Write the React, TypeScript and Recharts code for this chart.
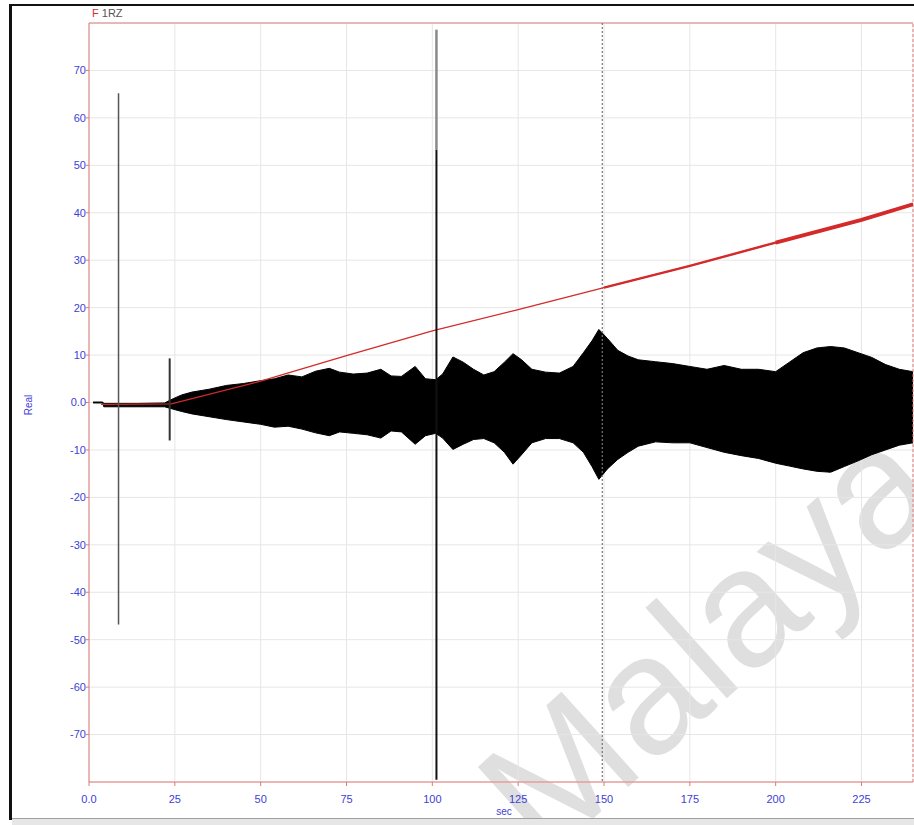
import React from 'react';
import { ComposedChart, XAxis, YAxis, CartesianGrid, Area, Line, ReferenceLine } from 'recharts';

const xTicks = [0, 25, 50, 75, 100, 125, 150, 175, 200, 225];
const yTicks = [70, 60, 50, 40, 30, 20, 10, 0, -10, -20, -30, -40, -50, -60, -70];

// envelope of the oscillating response (sec, upper, lower)
const envT = [1.2, 4.0, 4.3, 14, 22, 24.5, 27, 30, 35, 40, 45, 50, 54, 58, 62, 66, 70, 73, 77, 81, 85, 88, 91, 95, 98, 101, 103, 106, 109, 112, 115, 118, 121, 123.5, 126, 129, 133, 137, 141, 144, 146.5, 148.5, 151, 154, 157, 160, 165, 170, 175, 180, 185, 190, 195, 200, 204, 208, 212, 216, 220, 224, 228, 232, 236, 240];
const envHigh = [0.1, 0.1, -0.2, -0.2, -0.1, 0.8, 1.6, 2.2, 2.8, 3.6, 4.0, 4.6, 5.0, 5.8, 5.4, 6.6, 7.2, 6.4, 6.0, 6.2, 7.0, 5.6, 5.5, 7.6, 5.0, 4.8, 6.0, 9.6, 8.5, 7.0, 5.8, 6.5, 8.5, 10.3, 9.0, 7.0, 6.4, 6.2, 7.6, 10.5, 13.0, 15.4, 13.5, 11.0, 9.8, 9.0, 8.6, 8.2, 7.6, 7.0, 7.8, 7.0, 7.0, 6.5, 8.5, 10.5, 11.5, 11.8, 11.5, 10.5, 9.5, 8.0, 7.0, 6.5];
const envLow = [-0.1, -0.1, -0.9, -0.9, -0.9, -1.4, -1.9, -2.4, -3.0, -3.6, -4.1, -4.6, -5.2, -5.0, -5.6, -6.4, -7.0, -6.2, -6.5, -6.8, -7.5, -6.0, -6.2, -8.8, -7.0, -6.5, -7.5, -9.9, -8.8, -7.8, -7.6, -8.5, -10.5, -13.0, -11.0, -8.5, -7.6, -7.6, -8.5, -10.5, -13.5, -16.2, -14.0, -12.0, -10.5, -9.2, -8.3, -8.5, -8.5, -9.5, -10.5, -11.2, -11.8, -12.8, -13.4, -14.0, -14.5, -14.7, -13.5, -12.3, -11.0, -10.0, -9.0, -8.5];

// red reference trace
const refT = [3.5, 24, 50, 75, 100, 125, 150, 175, 200, 225, 240];
const refV = [-0.4, -0.3, 4.5, 9.9, 15.1, 19.6, 24.2, 28.8, 33.7, 38.5, 41.8];

// impulse spikes (sec, top, bottom)
const spikeT = [8.6, 23.5, 101.2];
const spikeTop = [65.2, 9.3, 53.3];
const spikeBottom = [-46.8, -8.0, -79.5];
const spikeColor = ['#555', '#333', '#111'];
const spikeWidth = [1.5, 2, 2];
// faint upper part of the large spike
const faintTop = 78.6;

const cursorT = 149.5;

const envelope = envT.map((t, i) => ({ t, band: [envLow[i], envHigh[i]] }));
const refData = refT.map((t, i) => ({ t, v: refV[i] }));

const blue = '#4040d8';
const border = '#e07878';
const tickStyle = { fill: blue, fontSize: 11, fontFamily: 'Liberation Sans, Arial, sans-serif' };

const fmt = (v: number) => (v === 0 ? '0.0' : String(v));

export default function App() {
  return (
    <div style={{ position: 'absolute', left: 0, top: 0, width: 914, height: 825, background: '#fff', overflow: 'hidden' }}>
      <svg width={914} height={825} style={{ position: 'absolute', left: 0, top: 0 }}>
        <text
          x={545}
          y={862}
          transform="rotate(-42 545 862)"
          fontFamily="Liberation Sans, Arial, sans-serif"
          fontSize={168}
          fill="#dfdfdf"
        >
          Malaya
        </text>
      </svg>
      <div style={{ position: 'absolute', left: 9, top: 4, width: 3, height: 816, background: '#111' }} />
      <div style={{ position: 'absolute', left: 9, top: 4, width: 905, height: 2, background: '#111' }} />
      <div style={{ position: 'absolute', left: 12, top: 818, width: 902, height: 7, background: '#e6e6e6', borderTop: '1px solid #a0a0a0' }} />
      <div style={{ position: 'absolute', left: 92, top: 7, fontSize: 11, fontFamily: 'Liberation Sans, Arial, sans-serif', lineHeight: '13px', whiteSpace: 'nowrap' }}>
        <span style={{ color: '#d03030' }}>F</span>
        <span style={{ color: '#555' }}> 1RZ</span>
      </div>
      <div style={{ position: 'absolute', left: 28, top: 405, transform: 'translate(-50%, -50%) rotate(-90deg)', fontSize: 10, color: blue, fontFamily: 'Liberation Sans, Arial, sans-serif' }}>
        Real
      </div>
      <div style={{ position: 'absolute', left: 504, top: 811, transform: 'translate(-50%, -50%)', fontSize: 10, color: blue, fontFamily: 'Liberation Sans, Arial, sans-serif' }}>
        sec
      </div>
      <ComposedChart
        width={914}
        height={825}
        margin={{ top: 23, right: 1, bottom: 0, left: 0 }}
        style={{ position: 'absolute', left: 0, top: 0 }}
      >
        <CartesianGrid stroke="#e6e6e6" />
        <XAxis
          dataKey="t"
          type="number"
          domain={[0, 240]}
          ticks={xTicks}
          tickFormatter={fmt}
          allowDataOverflow
          height={43}
          axisLine={{ stroke: border }}
          tickLine={{ stroke: border }}
          tickSize={4}
          tickMargin={9}
          tick={tickStyle}
        />
        <YAxis
          type="number"
          domain={[-80, 80]}
          ticks={yTicks}
          tickFormatter={fmt}
          allowDataOverflow
          width={89}
          axisLine={{ stroke: border }}
          tickLine={{ stroke: border }}
          tickSize={3}
          tickMargin={0}
          tick={tickStyle}
        />
        <ReferenceLine y={80} stroke={border} />
        <ReferenceLine x={240} stroke={border} strokeDasharray="3 2" />
        <Area
          data={envelope}
          dataKey="band"
          type="linear"
          stroke="#000"
          strokeWidth={1}
          fill="#000"
          fillOpacity={1}
          isAnimationActive={false}
          activeDot={false}
        />
        <Line data={refData} dataKey="v" type="linear" stroke="#d42a2a" strokeWidth={1.3} dot={false} activeDot={false} isAnimationActive={false} />
        <Line data={refData.filter((d) => d.t >= 140)} dataKey="v" type="linear" stroke="#d42a2a" strokeWidth={2.4} dot={false} activeDot={false} isAnimationActive={false} />
        <Line data={refData.filter((d) => d.t >= 190)} dataKey="v" type="linear" stroke="#d42a2a" strokeWidth={3.8} dot={false} activeDot={false} isAnimationActive={false} />
        <Line
          data={[{ t: cursorT, v: 80 }, { t: cursorT, v: -80 }]}
          dataKey="v"
          stroke="#777"
          strokeWidth={1.2}
          strokeDasharray="2 2"
          dot={false}
          activeDot={false}
          isAnimationActive={false}
        />
        <Line
          data={[{ t: spikeT[2], v: faintTop }, { t: spikeT[2], v: spikeTop[2] }]}
          dataKey="v"
          stroke="#8a8a8a"
          strokeWidth={2.5}
          dot={false}
          activeDot={false}
          isAnimationActive={false}
        />
        {spikeT.map((t, i) => (
          <Line
            key={t}
            data={[{ t, v: spikeTop[i] }, { t, v: spikeBottom[i] }]}
            dataKey="v"
            stroke={spikeColor[i]}
            strokeWidth={spikeWidth[i]}
            dot={false}
            activeDot={false}
            isAnimationActive={false}
          />
        ))}
      </ComposedChart>
    </div>
  );
}
